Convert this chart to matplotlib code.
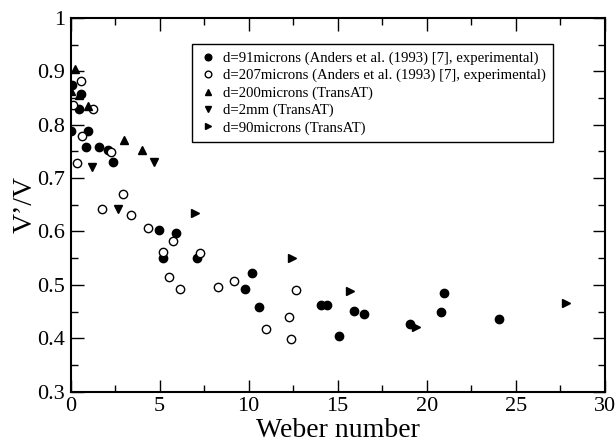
import matplotlib
matplotlib.use('Agg')
import matplotlib.pyplot as plt
from matplotlib.ticker import MultipleLocator, FuncFormatter

plt.rcParams['font.family'] = ['Liberation Serif', 'DejaVu Serif']

# d=91microns, Anders et al. (1993), experimental
we91 = [0.0, 0.09, 0.58, 0.47, 0.99, 0.86, 1.57, 2.08, 2.38,
        4.98, 5.9, 5.2, 7.08, 10.2, 9.81, 10.6,
        14.08, 14.42, 15.9, 16.5, 15.09, 19.08, 20.79, 20.99, 24.08]
v91 = [0.788, 0.874, 0.857, 0.829, 0.788, 0.759, 0.759, 0.753, 0.730,
       0.603, 0.597, 0.551, 0.551, 0.522, 0.492, 0.458,
       0.463, 0.463, 0.451, 0.445, 0.405, 0.427, 0.450, 0.485, 0.437]

# d=207microns, Anders et al. (1993), experimental
we207 = [0.56, 0.15, 1.27, 0.65, 2.26, 0.34, 2.96, 1.76, 3.37,
         4.36, 5.77, 5.17, 7.28, 5.54, 6.16, 8.28, 9.16,
         12.68, 12.27, 10.97, 12.36]
v207 = [0.882, 0.836, 0.829, 0.779, 0.749, 0.728, 0.670, 0.642, 0.630,
        0.607, 0.583, 0.561, 0.560, 0.515, 0.492, 0.497, 0.508,
        0.490, 0.439, 0.417, 0.399]

# d=200microns (TransAT)
we200 = [0.26, 0.03, 0.45, 0.98, 3.0, 3.98]
v200 = [0.904, 0.863, 0.855, 0.835, 0.771, 0.752]

# d=2mm (TransAT)
we2mm = [4.7, 1.2, 2.68]
v2mm = [0.730, 0.720, 0.642]

# d=90microns (TransAT)
we90 = [6.98, 12.45, 15.67, 19.4, 27.83]
v90 = [0.634, 0.550, 0.489, 0.421, 0.467]

fig = plt.figure(figsize=(6.16, 4.43), dpi=100)
ax = fig.add_axes([0.1148, 0.1158, 0.8669, 0.8438])

ms = 6
ax.plot(we91, v91, 'o', color='k', ms=ms, ls='none',
        label='d=91microns (Anders et al. (1993) [7], experimental)')
ax.plot(we207, v207, 'o', mfc='white', mec='k', mew=1.0, ms=ms, ls='none',
        label='d=207microns (Anders et al. (1993) [7], experimental)')
ax.plot(we200, v200, '^', color='k', ms=ms, ls='none',
        label='d=200microns (TransAT)')
ax.plot(we2mm, v2mm, 'v', color='k', ms=ms, ls='none',
        label='d=2mm (TransAT)')
ax.plot(we90, v90, '>', color='k', ms=ms, ls='none',
        label='d=90microns (TransAT)')

ax.set_xlim(0, 30)
ax.set_ylim(0.3, 1.0)
ax.xaxis.set_major_locator(MultipleLocator(5))
ax.xaxis.set_minor_locator(MultipleLocator(2.5))
ax.yaxis.set_major_locator(MultipleLocator(0.1))
ax.yaxis.set_minor_locator(MultipleLocator(0.05))
ax.yaxis.set_major_formatter(FuncFormatter(lambda v, p: '%g' % round(v, 2)))
ax.tick_params(which='both', direction='in', top=True, right=True,
               labelsize=16, width=1.0, pad=4)
ax.tick_params(which='major', length=9)
ax.tick_params(which='minor', length=5)
for sp in ax.spines.values():
    sp.set_linewidth(1.5)

ax.set_xlabel('Weber number', fontsize=20, labelpad=1)
ax.set_ylabel('V\u2019/V', fontsize=20, labelpad=0)

leg = ax.legend(loc='upper left', bbox_to_anchor=(0.227, 0.930),
                borderaxespad=0, fontsize=10.6, frameon=True, fancybox=False,
                handletextpad=0.4, handlelength=1.2, markerscale=0.8,
                labelspacing=0.27, borderpad=0.5)
leg.get_frame().set_edgecolor('k')
leg.get_frame().set_linewidth(1.0)
leg.get_frame().set_alpha(1)

fig.savefig('out.png', dpi=100)
